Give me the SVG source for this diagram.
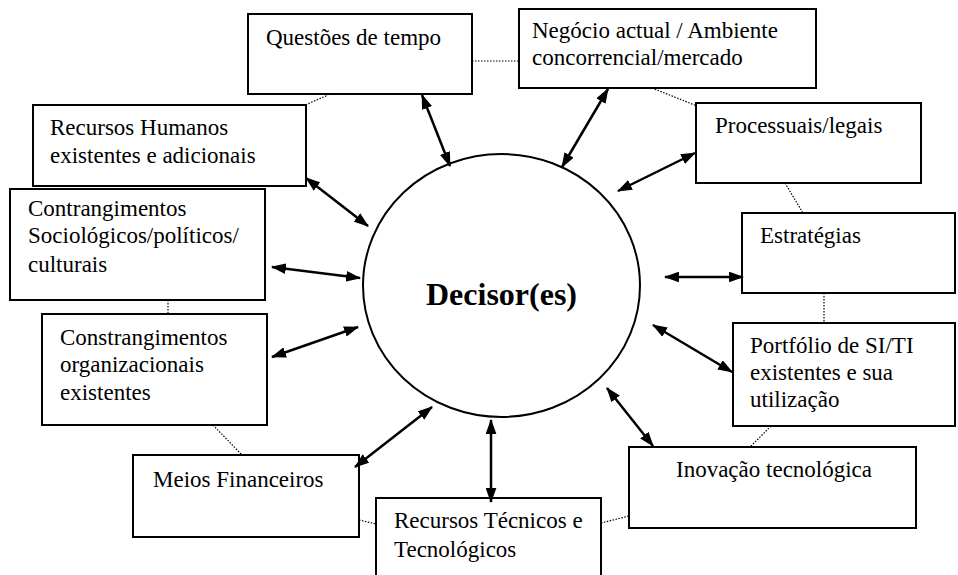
<svg xmlns="http://www.w3.org/2000/svg" width="958" height="575" viewBox="0 0 958 575">
  <style>
    .box { fill: #fff; stroke: #000; stroke-width: 2; }
    .lbl { font-family: 'Liberation Serif', 'DejaVu Serif', serif; font-size: 23px; fill: #000; }
    .title { font-family: 'Liberation Serif', 'DejaVu Serif', serif; font-size: 32px; font-weight: bold; fill: #000; }
    .link { stroke: #000; stroke-width: 1.2; stroke-dasharray: 1.5 1.5; fill: none; }
    .arrow { stroke: #000; stroke-width: 2.5; fill: none; marker-start: url(#head); marker-end: url(#head); }
  </style>
  <defs>
    <marker id="head" viewBox="0 0 14 10" refX="13" refY="5" markerWidth="15" markerHeight="11" markerUnits="userSpaceOnUse" orient="auto-start-reverse">
      <path d="M0,0 L14,5 L0,10 z" fill="#000"/>
    </marker>
  </defs>
  <rect width="958" height="575" fill="#fff"/>

  <!-- dotted ring linking neighbouring boxes -->
  <g id="ring">
    <line class="link" x1="472" y1="61" x2="519" y2="61"/>
    <line class="link" x1="303" y1="106" x2="328" y2="95"/>
    <line class="link" x1="652" y1="88" x2="697" y2="106"/>
    <line class="link" x1="785" y1="183" x2="803" y2="213"/>
    <line class="link" x1="824" y1="293" x2="824" y2="323"/>
    <line class="link" x1="771" y1="426" x2="750" y2="447"/>
    <line class="link" x1="601" y1="523" x2="629" y2="516"/>
    <line class="link" x1="359" y1="520" x2="376" y2="524"/>
    <line class="link" x1="213" y1="425" x2="242" y2="455"/>
    <line class="link" x1="168" y1="300" x2="168" y2="314"/>
  </g>

  <!-- central decision maker -->
  <g id="decisor">
    <ellipse cx="501.5" cy="285.5" rx="138.5" ry="131.5" fill="#fff" stroke="#000" stroke-width="2"/>
    <text class="title" x="501.5" y="305" text-anchor="middle">Decisor(es)</text>
  </g>

  <g id="questoes-tempo">
    <rect class="box" x="248" y="14" width="224" height="80"/>
    <text class="lbl" x="266" y="45">Questões de tempo</text>
  </g>
  <g id="negocio">
    <rect class="box" x="519" y="9" width="297" height="79"/>
    <text class="lbl" x="532" y="38">Negócio actual / Ambiente</text>
    <text class="lbl" x="532" y="65">concorrencial/mercado</text>
  </g>
  <g id="processuais">
    <rect class="box" x="696" y="103" width="225" height="80"/>
    <text class="lbl" x="715" y="133">Processuais/legais</text>
  </g>
  <g id="estrategias">
    <rect class="box" x="742" y="213" width="213" height="80"/>
    <text class="lbl" x="760" y="243">Estratégias</text>
  </g>
  <g id="portfolio">
    <rect class="box" x="733" y="323" width="222" height="103"/>
    <text class="lbl" x="750" y="353">Portfólio de SI/TI</text>
    <text class="lbl" x="750" y="380">existentes e sua</text>
    <text class="lbl" x="750" y="407">utilização</text>
  </g>
  <g id="inovacao">
    <rect class="box" x="629" y="447" width="287" height="81"/>
    <text class="lbl" x="676" y="477">Inovação tecnológica</text>
  </g>
  <g id="recursos-tecnicos">
    <rect class="box" x="376" y="498" width="225" height="90"/>
    <text class="lbl" x="394" y="528">Recursos Técnicos e</text>
    <text class="lbl" x="394" y="557">Tecnológicos</text>
  </g>
  <g id="meios-financeiros">
    <rect class="box" x="133" y="455" width="226" height="82"/>
    <text class="lbl" x="153" y="487">Meios Financeiros</text>
  </g>
  <g id="constrangimentos-org">
    <rect class="box" x="42" y="314" width="225" height="111"/>
    <text class="lbl" x="60" y="345">Constrangimentos</text>
    <text class="lbl" x="60" y="372">organizacionais</text>
    <text class="lbl" x="60" y="400">existentes</text>
  </g>
  <g id="contrangimentos-socio">
    <rect class="box" x="10" y="189" width="255" height="111"/>
    <text class="lbl" x="28" y="216">Contrangimentos</text>
    <text class="lbl" x="28" y="243">Sociológicos/políticos/</text>
    <text class="lbl" x="28" y="272">culturais</text>
  </g>
  <g id="recursos-humanos">
    <rect class="box" x="33" y="105" width="273" height="81"/>
    <text class="lbl" x="50" y="135">Recursos Humanos</text>
    <text class="lbl" x="50" y="163">existentes e adicionais</text>
  </g>

  <!-- two-way influences between the decision maker and each factor -->
  <g id="connectors">
    <line class="arrow" x1="422" y1="95" x2="450" y2="166"/>
    <line class="arrow" x1="608" y1="89" x2="562" y2="167"/>
    <line class="arrow" x1="695" y1="153" x2="618" y2="191"/>
    <line class="arrow" x1="743" y1="277" x2="665" y2="277"/>
    <line class="arrow" x1="732" y1="372" x2="653" y2="325"/>
    <line class="arrow" x1="653" y1="446" x2="607" y2="388"/>
    <line class="arrow" x1="491" y1="502" x2="491" y2="420"/>
    <line class="arrow" x1="355" y1="467" x2="432" y2="407"/>
    <line class="arrow" x1="272" y1="357" x2="358" y2="327"/>
    <line class="arrow" x1="272" y1="267" x2="360" y2="278"/>
    <line class="arrow" x1="306" y1="178" x2="368" y2="226"/>
  </g>
</svg>
